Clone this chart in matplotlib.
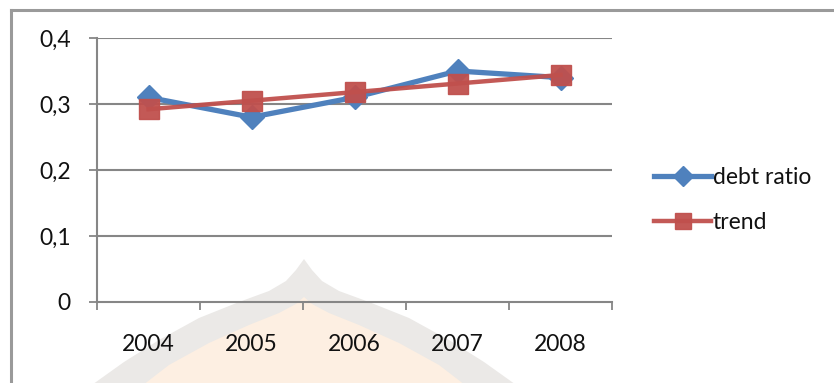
import matplotlib
matplotlib.use("Agg")
import matplotlib.pyplot as plt
from matplotlib.patches import Polygon
from matplotlib.lines import Line2D
import numpy as np

years = ["2004", "2005", "2006", "2007", "2008"]
debt_ratio = [0.31, 0.28, 0.31, 0.35, 0.34]
trend = [0.292, 0.305, 0.318, 0.331, 0.344]
y_ticks = [0.0, 0.1, 0.2, 0.3, 0.4]
y_tick_labels = ["0", "0,1", "0,2", "0,3", "0,4"]

W, H = 834, 383
plt.rcParams["font.family"] = ["Lato", "DejaVu Sans"]

fig = plt.figure(figsize=(W / 100, H / 100), dpi=100)
fig.patch.set_facecolor("white")


def px(x, y):
    return (x / W, 1 - y / H)


# faint dome-shaped background emblem
cx = 304
outer = [(0, 259), (8, 270), (18, 281), (35, 291), (65, 302), (105, 318),
         (145, 340), (180, 362), (222, 392)]
inner = [(0, 297), (8, 304), (25, 313), (55, 325), (95, 343), (135, 365),
         (170, 392)]


def dome(pts):
    right = [(cx + dx, y) for dx, y in pts]
    left = [(cx - dx, y) for dx, y in reversed(pts)]
    return [px(x, y) for x, y in left + right[1:]]


fig.add_artist(Polygon(dome(outer), closed=True, transform=fig.transFigure,
                       facecolor="#ebe9e7", edgecolor="none", zorder=0))
fig.add_artist(Polygon(dome(inner), closed=True, transform=fig.transFigure,
                       facecolor="#fdefe2", edgecolor="none", zorder=0.1))

# chart frame (open to the right and bottom)
fig.add_artist(Line2D([10.5 / W, 1.0], [1 - 9.5 / H] * 2, transform=fig.transFigure,
                      color="#9a9a9a", lw=2.2, zorder=1))
fig.add_artist(Line2D([10.5 / W] * 2, [0.0, 1 - 9.5 / H], transform=fig.transFigure,
                      color="#9a9a9a", lw=2.2, zorder=1))

left, right, top, bottom = 97, 612, 38, 302
ax = fig.add_axes([left / W, 1 - bottom / H, (right - left) / W, (bottom - top) / H])
ax.patch.set_alpha(0)
ax.set_zorder(2)

x = np.arange(len(years)) + 0.5
grid_c = "#868686"

ax.plot(x, debt_ratio, color="#4F81BD", lw=3.8, marker="D", ms=12,
        mfc="#4F81BD", mec="#4F81BD", label="debt ratio", zorder=3)
ax.plot(x, trend, color="#C0504D", lw=3.2, marker="s", ms=14,
        mfc="#C0504D", mec="#C0504D", alpha=0.95, label="trend", zorder=4)

ax.set_xlim(0, len(years))
ax.set_ylim(0, 0.4)
ax.set_yticks(y_ticks)
ax.set_yticklabels(y_tick_labels)
for yv in y_ticks[1:]:
    ax.axhline(yv, color=grid_c, lw=1.5, zorder=1)

ax.set_xticks(np.arange(len(years) + 1))
ax.set_xticklabels([])
ax.set_xticks(x, minor=True)
ax.set_xticklabels(years, minor=True)
ax.tick_params(axis="x", which="major", length=6, width=1.3, color=grid_c, direction="out")
ax.tick_params(axis="x", which="minor", length=0, pad=23, labelsize=16.5, labelcolor="#111111")
ax.tick_params(axis="y", length=6, width=1.3, color=grid_c, direction="out",
               pad=13, labelsize=16.5, labelcolor="#111111")

for side in ("top", "right"):
    ax.spines[side].set_visible(False)
for side in ("left", "bottom"):
    ax.spines[side].set_color(grid_c)
    ax.spines[side].set_linewidth(1.5)

leg = fig.legend(loc="upper left", bbox_to_anchor=px(645, 158), frameon=False,
                 fontsize=16.5, handlelength=2.5, handletextpad=0.05,
                 labelspacing=1.05, markerscale=0.85, borderaxespad=0)
for t in leg.get_texts():
    t.set_color("#111111")

fig.savefig("out.png", dpi=100)
